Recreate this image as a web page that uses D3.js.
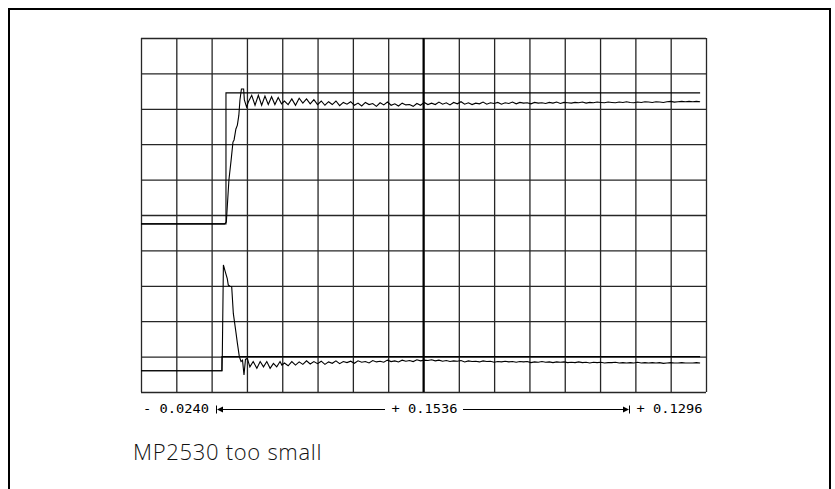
<!DOCTYPE html>
<html>
<head>
<meta charset="utf-8">
<script src="https://cdn.jsdelivr.net/npm/d3@7"></script>
<style>
  html, body { margin: 0; padding: 0; background: #fff; }
  svg { display: block; }
</style>
</head>
<body>
<div id="chart"></div>
<script>
// Scope settings: time in ms, amplitude in grid divisions
var timeDomain = [-24, 129.6];
var ampDomain = [0, 10];
var xDivisions = 16;
var yDivisions = 10;

// Cursor readout under the screen
var cursorLabels = ["- 0.0240", "+ 0.1536", "+ 0.1296"];
var caption = "MP2530 too small";

// Upper channel: command step [ms, div]
var topRef = [[-24, 4.75], [-0.9, 4.75], [-0.9, 8.45], [128, 8.45]];

// Upper channel: response, transient part [ms, div]
var topTransient = [
    [-24, 4.75], [-1.3, 4.75], [-0.8, 4.80], [-0.1, 5.99], [0.5, 6.55], [1.0, 7.06],
    [1.3, 7.12], [1.8, 7.43], [2.2, 7.54], [2.6, 7.82], [2.9, 8.25], [3.3, 8.56],
    [3.9, 8.56], [4.1, 8.25], [4.7, 8.05], [5.2, 8.20], [6.1, 8.38], [7.0, 8.10],
    [7.9, 8.38], [8.8, 8.10], [9.7, 8.36], [10.6, 8.12], [11.5, 8.34], [12.4, 8.12],
    [13.3, 8.32], [14.2, 8.14]
];

// Upper channel: response tail, one sample per ms from 15 ms
var tailStart = 15;
var tailStep = 1;
var topTail = [
    8.22, 8.12, 8.28, 8.10, 8.30, 8.16, 8.28, 8.14, 8.26, 8.12,
    8.22, 8.10, 8.20, 8.12, 8.22, 8.09, 8.18, 8.13, 8.20, 8.10,
    8.16, 8.08, 8.18, 8.12, 8.15, 8.07, 8.17, 8.11, 8.19, 8.10,
    8.14, 8.08, 8.16, 8.11, 8.12, 8.07, 8.15, 8.10, 8.18, 8.12,
    8.16, 8.12, 8.19, 8.13, 8.17, 8.11, 8.18, 8.14, 8.20, 8.13,
    8.17, 8.12, 8.16, 8.14, 8.19, 8.13, 8.17, 8.15, 8.18, 8.13,
    8.17, 8.15, 8.19, 8.14, 8.18, 8.16, 8.17, 8.14, 8.18, 8.16,
    8.17, 8.15, 8.18, 8.16, 8.19, 8.15, 8.18, 8.17, 8.16, 8.18,
    8.17, 8.19, 8.16, 8.18, 8.17, 8.19, 8.18, 8.17, 8.19, 8.18,
    8.17, 8.19, 8.18, 8.20, 8.18, 8.17, 8.19, 8.18, 8.20, 8.19,
    8.18, 8.20, 8.19, 8.18, 8.20, 8.21, 8.19, 8.20, 8.21, 8.20,
    8.21, 8.20, 8.21, 8.20
];

// Lower channel: reference step [ms, div]
var bottomRef = [[-24, 0.60], [-2.0, 0.60], [-2.0, 1.00], [128, 1.00]];

// Lower channel: signal, transient part [ms, div]
var bottomTransient = [
    [-24, 0.60], [-2.0, 0.60], [-1.9, 1.00], [-1.6, 3.59], [-1.1, 3.40], [-0.55, 3.20],
    [-0.27, 3.02], [0.2, 2.99], [0.66, 2.97], [1.1, 2.22], [1.83, 1.67], [2.2, 1.38],
    [2.73, 1.00], [3.2, 0.86], [3.6, 0.90], [4.0, 0.48], [4.4, 0.92], [4.9, 0.95],
    [5.6, 0.71], [6.5, 0.86], [7.5, 0.67], [8.4, 0.86], [9.3, 0.71], [10.2, 0.86],
    [11.1, 0.67], [12.0, 0.81], [12.9, 0.71], [13.8, 0.86], [14.3, 0.76]
];

// Lower channel: signal tail, one sample per ms from 15 ms
var bottomTail = [
    0.82, 0.74, 0.86, 0.76, 0.85, 0.78, 0.88, 0.79, 0.86, 0.80,
    0.87, 0.78, 0.85, 0.81, 0.88, 0.80, 0.86, 0.83, 0.87, 0.81,
    0.88, 0.84, 0.86, 0.82, 0.89, 0.85, 0.87, 0.84, 0.90, 0.86,
    0.88, 0.85, 0.90, 0.87, 0.89, 0.86, 0.91, 0.88, 0.90, 0.89,
    0.91, 0.88, 0.90, 0.87, 0.89, 0.86, 0.88, 0.87, 0.89, 0.85,
    0.88, 0.86, 0.87, 0.85, 0.88, 0.86, 0.87, 0.84, 0.86, 0.85,
    0.87, 0.85, 0.86, 0.84, 0.86, 0.85, 0.86, 0.83, 0.85, 0.84,
    0.86, 0.84, 0.85, 0.83, 0.85, 0.84, 0.85, 0.83, 0.84, 0.83,
    0.85, 0.83, 0.84, 0.82, 0.84, 0.83, 0.84, 0.82, 0.83, 0.83,
    0.84, 0.82, 0.83, 0.82, 0.83, 0.82, 0.84, 0.82, 0.83, 0.82,
    0.83, 0.82, 0.83, 0.81, 0.82, 0.83, 0.82, 0.82, 0.83, 0.82,
    0.82, 0.82, 0.83, 0.82
];

var width = 835;
var height = 489;
var plot = { left: 141, top: 38, right: 706, bottom: 392 };

var svg = d3.select("#chart").append("svg")
    .attr("width", width)
    .attr("height", height);

// Outer frame (bottom edge runs off the page)
svg.append("rect")
    .attr("x", 9)
    .attr("y", 9)
    .attr("width", 821)
    .attr("height", 520)
    .attr("fill", "none")
    .attr("stroke", "#000")
    .attr("stroke-width", 2);

var x = d3.scaleLinear().domain(timeDomain).range([plot.left, plot.right]);
var y = d3.scaleLinear().domain(ampDomain).range([plot.bottom, plot.top]);

var xStep = (timeDomain[1] - timeDomain[0]) / xDivisions;
var yStep = (ampDomain[1] - ampDomain[0]) / yDivisions;
var xGrid = d3.range(xDivisions + 1).map(function(i) { return timeDomain[0] + i * xStep; });
var yGrid = d3.range(yDivisions + 1).map(function(i) { return ampDomain[0] + i * yStep; });

// Graticule drawn with axes, no labels
var gridG = svg.append("g").attr("class", "grid");

gridG.append("g")
    .attr("transform", "translate(0," + plot.bottom + ")")
    .call(d3.axisBottom(x).tickValues(xGrid).tickSize(-(plot.bottom - plot.top)).tickFormat(""))
    .call(function(g) { g.select(".domain").remove(); });

gridG.append("g")
    .attr("transform", "translate(" + plot.left + ",0)")
    .call(d3.axisLeft(y).tickValues(yGrid).tickSize(-(plot.right - plot.left)).tickFormat(""))
    .call(function(g) { g.select(".domain").remove(); });

gridG.selectAll(".tick line")
    .attr("stroke", "#262626")
    .attr("stroke-width", 1.3);

// Centre line is heavier
gridG.append("line")
    .attr("x1", x(xGrid[xDivisions / 2]))
    .attr("x2", x(xGrid[xDivisions / 2]))
    .attr("y1", plot.top)
    .attr("y2", plot.bottom)
    .attr("stroke", "#000")
    .attr("stroke-width", 2);

// Build a trace from transient pairs plus evenly sampled tail
var withTail = function(transient, tail) {
    return transient.concat(tail.map(function(v, i) { return [tailStart + i * tailStep, v]; }));
};

var line = d3.line()
    .x(function(d) { return x(d[0]); })
    .y(function(d) { return y(d[1]); });

var traces = [topRef, bottomRef, withTail(topTransient, topTail), withTail(bottomTransient, bottomTail)];

svg.append("g").selectAll("path")
    .data(traces)
    .enter().append("path")
    .attr("d", line)
    .attr("fill", "none")
    .attr("stroke", "#000")
    .attr("stroke-width", 1.1);

// Cursor readout, stretched to the wide scope font
var readG = svg.append("g")
    .style("font-family", "'DejaVu Sans Mono', 'Liberation Mono', monospace")
    .style("font-size", "12px")
    .attr("fill", "#000");

var readY = 413;
var arrowY = 409.5;
var readX = [143, 391.5, 636.5];
readG.selectAll("text")
    .data(cursorLabels)
    .enter().append("text")
    .attr("x", function(d, i) { return readX[i]; })
    .attr("y", readY)
    .attr("textLength", 66)
    .attr("lengthAdjust", "spacingAndGlyphs")
    .text(function(d) { return d; });

// Arrow left part
readG.append("line").attr("x1", 216.5).attr("x2", 216.5).attr("y1", arrowY - 4).attr("y2", arrowY + 4)
    .attr("stroke", "#000").attr("stroke-width", 1);
readG.append("path").attr("d", "M217," + arrowY + "L223," + (arrowY - 3) + "L223," + (arrowY + 3) + "Z");
readG.append("line").attr("x1", 222).attr("x2", 385).attr("y1", arrowY).attr("y2", arrowY)
    .attr("stroke", "#000").attr("stroke-width", 1);

// Arrow right part
readG.append("line").attr("x1", 463).attr("x2", 623).attr("y1", arrowY).attr("y2", arrowY)
    .attr("stroke", "#000").attr("stroke-width", 1);
readG.append("path").attr("d", "M629," + arrowY + "L623," + (arrowY - 3) + "L623," + (arrowY + 3) + "Z");
readG.append("line").attr("x1", 629.5).attr("x2", 629.5).attr("y1", arrowY - 4).attr("y2", arrowY + 4)
    .attr("stroke", "#000").attr("stroke-width", 1);

// Caption
svg.append("text")
    .attr("x", 133)
    .attr("y", 460)
    .style("font-family", "'Open Sans', Lato, sans-serif")
    .style("font-weight", 300)
    .style("font-size", "22px")
    .style("letter-spacing", "0.7px")
    .attr("fill", "#111")
    .text(caption);
</script>
</body>
</html>
